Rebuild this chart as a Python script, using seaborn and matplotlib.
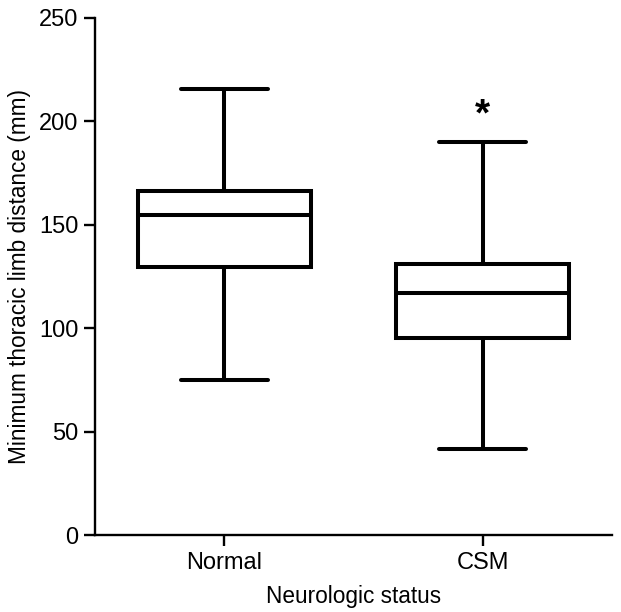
import pandas as pd
import seaborn as sns
import matplotlib
matplotlib.use('Agg')
import matplotlib.pyplot as plt

# Box plot summary (whisker low, Q1, median, Q3, whisker high)
groups = ['Normal', 'CSM']
normal_vals = [74.8, 129.7, 154.7, 166.3, 215.8]
csm_vals = [41.6, 95.4, 117.0, 130.9, 189.9]
y_ticks = [0, 50, 100, 150, 200, 250]

df = pd.DataFrame({
    'status': ['Normal'] * len(normal_vals) + ['CSM'] * len(csm_vals),
    'distance': normal_vals + csm_vals,
})

sns.set_style('ticks')
plt.rcParams['font.family'] = ['Liberation Sans', 'DejaVu Sans']
for key in ['text.color', 'axes.labelcolor', 'xtick.color', 'ytick.color', 'axes.edgecolor']:
    plt.rcParams[key] = 'black'

fig = plt.figure(figsize=(6.21, 6.12), dpi=100)
ax = fig.add_axes([0.153, 0.1258, 0.8325, 0.8448])

sns.boxplot(data=df, x='status', y='distance', order=groups, ax=ax,
            whis=(0, 100), width=0.67, color='white', linecolor='black',
            linewidth=2.9, showfliers=False)

# significance marker above CSM
ax.text(1, 203, '*', ha='center', va='center',
        fontsize=28, fontweight='bold')

ax.set_ylim(0, 250)
ax.set_xlim(-0.5, 1.5)
ax.set_yticks(y_ticks)
ax.set_xlabel('Neurologic status', fontsize=16.3, labelpad=8)
ax.set_ylabel('Minimum thoracic limb distance (mm)', fontsize=16.3, labelpad=6)
ax.tick_params(axis='both', labelsize=17, width=1.7, length=8, direction='out', pad=4)
for side in ['left', 'bottom']:
    ax.spines[side].set_linewidth(1.7)
sns.despine(ax=ax)

fig.savefig('out.png', dpi=100)
